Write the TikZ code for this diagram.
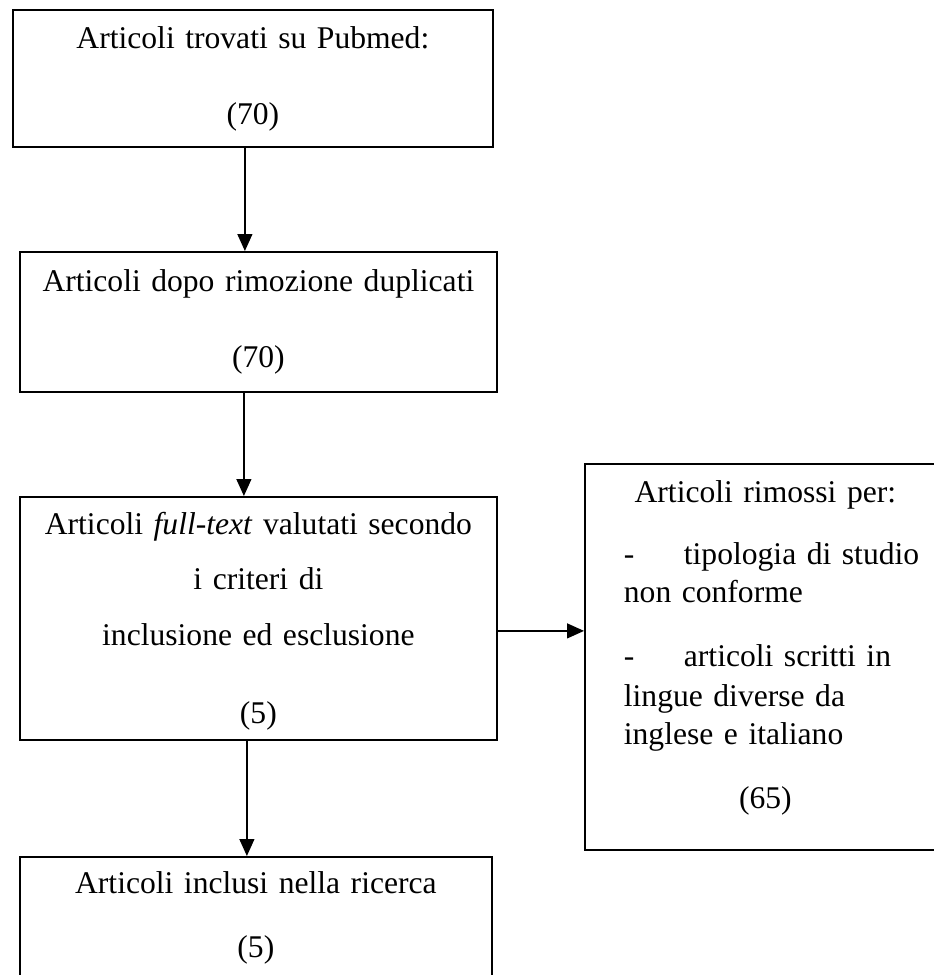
\documentclass[tikz,border=0pt]{standalone}
\usepackage{fontspec}
\setmainfont{Liberation Serif}
\usetikzlibrary{positioning}
\usetikzlibrary{arrows.meta}
\tikzstyle{box}=[draw,rectangle,line width=1.8pt,inner xsep=0pt,inner ysep=0pt,align=center,anchor=north west,font=\fontsize{31.6}{38}\selectfont]
\tikzstyle{edge} = [draw,line width=1.3pt,-{Triangle[length=17pt,width=15pt]}]
\newcommand{\rowleft}[1]{\makebox[283pt][l]{#1}}

\begin{document}
\begin{tikzpicture}[x=1pt,y=-1pt]
\useasboundingbox (0,0) rectangle (934,975);

% left column
\node[box,text width=480pt,text height=39pt,text depth=98pt] (trovati) at (12,9) {Articoli trovati su Pubmed:\\[38pt](70)};
\node[box,text width=477pt,text height=40pt,text depth=100pt] (dopo) at (19,251) {Articoli dopo rimozione duplicati\\[38pt](70)};
\node[box,text width=477pt,text height=38pt,text depth=205pt] (fulltext) at (19,496) {Articoli \textit{full-text} valutati secondo\\[17pt]i criteri di\\[18pt]inclusione ed esclusione\\[40pt](5)};
\node[box,text width=472pt,text height=37pt,text depth=103pt] (inclusi) at (19,856) {Articoli inclusi nella ricerca\\[26pt](5)};

% removed articles
\node[box,inner xsep=39pt,text width=283pt,text height=39pt,text depth=347pt] (rimossi) at (584,463) {Articoli rimossi per:\\[24pt]\rowleft{-\hspace{49.5pt}tipologia di studio}\\\rowleft{non conforme}\\[26pt]\rowleft{-\hspace{49.5pt}articoli scritti in}\\[2pt]\rowleft{lingue diverse da}\\\rowleft{inglese e italiano}\\[26pt](65)};

% arrows
\foreach \source/\dest/\sx/\dx in {trovati/dopo/-8/-13.5, dopo/fulltext/-14.5/-14.5, fulltext/inclusi/-11.5/-9}
    \path[edge] ([xshift=\sx pt]\source.south) -- ([xshift=\dx pt]\dest.north);
\path[edge] ([yshift=-12.5pt]fulltext.east) -- ([yshift=26pt]rimossi.west);

\end{tikzpicture}
\end{document}
